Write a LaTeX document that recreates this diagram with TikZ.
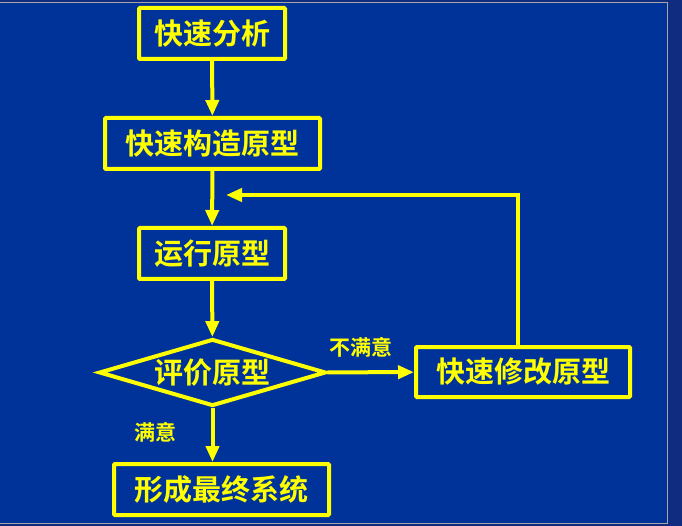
\documentclass[tikz,border=0pt]{standalone}
\usepackage{fontspec}
\newfontfamily\cjk{Noto Sans CJK SC}[BoldFont={Noto Sans CJK SC Bold}]
\usetikzlibrary{shapes.geometric,arrows.meta}
\colorlet{bgBlue}{rgb,255:red,0;green,51;blue,153}
\colorlet{edgeBlue}{rgb,255:red,16;green,44;blue,128}
\colorlet{penYellow}{rgb,255:red,255;green,255;blue,0}
\tikzset{>={Triangle[length=16pt,width=13pt]}}
\tikzset{
  box/.style={draw=penYellow, line width=4pt, rounded corners=1pt, text=penYellow,
    font=\cjk\bfseries\fontsize{29}{29}\selectfont, inner sep=0pt},
  decision/.style={diamond, draw=penYellow, line width=4pt, text=penYellow,
    font=\cjk\bfseries\fontsize{29}{29}\selectfont, inner sep=0pt, shape aspect=3.4,
    minimum width=227pt, minimum height=67pt},
  flow/.style={draw=penYellow, line width=4pt, ->},
  note/.style={text=penYellow, font=\cjk\bfseries\fontsize{21}{21}\selectfont}
}
\begin{document}
\begin{tikzpicture}[x=1pt,y=-1pt]
        \useasboundingbox (0,0) rectangle (682,526);
        \fill[edgeBlue] (0,0) rectangle (682,526);
        \fill[bgBlue] (0,3) rectangle (667,523);
        \draw[gray!70, line width=1pt] (0,2.5) -- (667.5,2.5) -- (667.5,523.5) -- (0,523.5);
        % flow boxes
        \node[box, minimum width=146pt, minimum height=51pt] (analyse) at (212,33.5) {快速分析};
        \node[box, minimum width=215pt, minimum height=51pt] (build) at (212.5,143.5) {快速构造原型};
        \node[box, minimum width=146pt, minimum height=51pt] (run) at (212,253.5) {运行原型};
        \node[decision] (judge) at (212.5,372.5) {评价原型};
        \node[box, minimum width=214pt, minimum height=50pt] (modify) at (523,372) {快速修改原型};
        \node[box, minimum width=215pt, minimum height=51pt] (final) at (221.5,489.5) {形成最终系统};
        \coordinate (back) at (226,195);
        % connectors
        \draw[flow] (analyse) -- (build);
        \draw[flow] (build) -- (run);
        \draw[flow] (run) -- (judge);
        \draw[flow] (judge.south) -- (judge.south |- final.north);
        \draw[flow] (judge) -- (modify);
        \draw[flow] ([xshift=-5pt]modify.north) |- (back);
        % labels
        \node[note] (unhappy) at (361,347) {不满意};
        \node[note] (happy) at (155,432) {满意};
\end{tikzpicture}
\end{document}
